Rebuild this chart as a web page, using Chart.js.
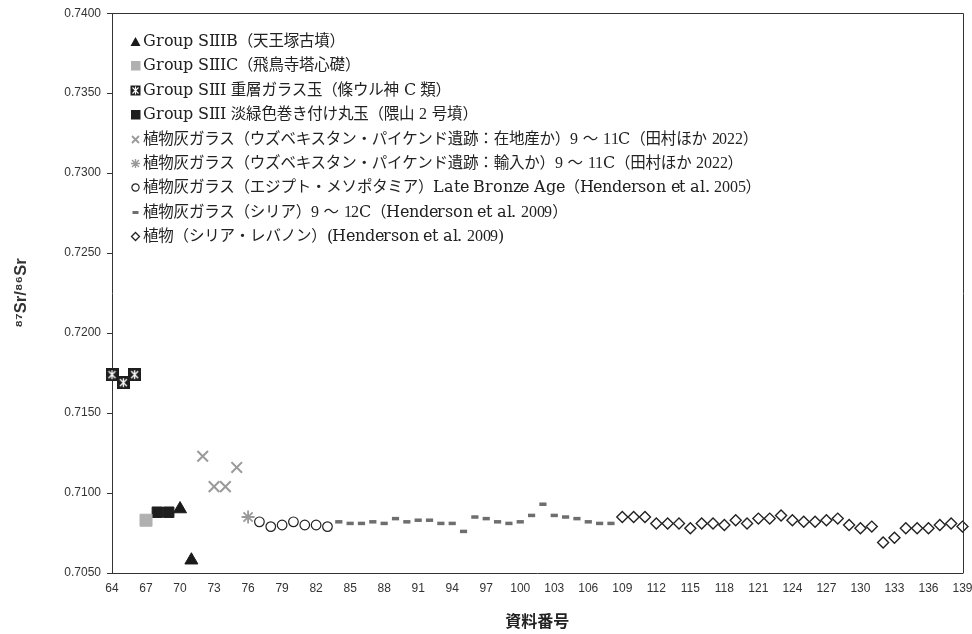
<!DOCTYPE html>
<html>
<head>
<meta charset="utf-8">
<script src="https://cdn.jsdelivr.net/npm/chart.js@4.4.1/dist/chart.umd.min.js"></script>
<style>
  @font-face { font-family: "LegendLatin"; src: local("Liberation Serif"); unicode-range: U+0030-0039; }
  @font-face { font-family: "LegendLatin"; src: local("DejaVu Serif"); unicode-range: U+0020-002F, U+003A-007E; }
  body { margin: 0; background: #fff; }
  #wrap { position: relative; width: 972px; height: 634px; }
  #legend {
    position: absolute; left: 130px; top: 29px;
    font: 15.5px "LegendLatin", "DejaVu Serif", "Noto Sans CJK JP", serif;
    letter-spacing: -0.2px;
    color: #222; line-height: 24.4px; white-space: nowrap;
  }
  #legend svg { vertical-align: -1px; margin-right: 2px; }
</style>
</head>
<body>
<div id="wrap">
  <canvas id="chart" width="972" height="634"></canvas>
  <div id="legend"></div>
</div>
<script>
// series labels (legend order)
const seriesLabels = [
  'Group SIIIB（天王塚古墳）',
  'Group SIIIC（飛鳥寺塔心礎）',
  'Group SIII 重層ガラス玉（條ウル神 C 類）',
  'Group SIII 淡緑色巻き付け丸玉（隈山 2 号墳）',
  '植物灰ガラス（ウズベキスタン・パイケンド遺跡：在地産か）9 ～ 11C（田村ほか 2022）',
  '植物灰ガラス（ウズベキスタン・パイケンド遺跡：輸入か）9 ～ 11C（田村ほか 2022）',
  '植物灰ガラス（エジプト・メソポタミア）Late Bronze Age（Henderson et al. 2005）',
  '植物灰ガラス（シリア）9 ～ 12C（Henderson et al. 2009）',
  '植物（シリア・レバノン）(Henderson et al. 2009)'
];

// sample numbers (資料番号) and 87Sr/86Sr values
const noSIIIB = [70, 71];
const srSIIIB = [0.7090, 0.7058];

const noSIIIC = [67];
const srSIIIC = [0.7083];

const noLayered = [64, 65, 66];
const srLayered = [0.7174, 0.7169, 0.7174];

const noGreen = [68, 69];
const srGreen = [0.7088, 0.7088];

const noUzLocal = [72, 73, 74, 75];
const srUzLocal = [0.7123, 0.7104, 0.7104, 0.7116];

const noUzImport = [76];
const srUzImport = [0.7085];

const noEgypt = [77, 78, 79, 80, 81, 82, 83];
const srEgypt = [0.7082, 0.7079, 0.7080, 0.7082, 0.7080, 0.7080, 0.7079];

const noSyria = [84, 85, 86, 87, 88, 89, 90, 91, 92, 93, 94, 95, 96, 97, 98, 99, 100,
                 101, 102, 103, 104, 105, 106, 107, 108];
const srSyria = [0.7082, 0.7081, 0.7081, 0.7082, 0.7081, 0.7084, 0.7082, 0.7083, 0.7083,
                 0.7081, 0.7081, 0.7076, 0.7085, 0.7084, 0.7082, 0.7081, 0.7082, 0.7086,
                 0.7093, 0.7086, 0.7085, 0.7084, 0.7082, 0.7081, 0.7081];

const noPlant = [109, 110, 111, 112, 113, 114, 115, 116, 117, 118, 119, 120, 121, 122, 123,
                 124, 125, 126, 127, 128, 129, 130, 131, 132, 133, 134, 135, 136, 137, 138, 139];
const srPlant = [0.7085, 0.7085, 0.7085, 0.7081, 0.7081, 0.7081, 0.7078, 0.7081, 0.7081,
                 0.7080, 0.7083, 0.7081, 0.7084, 0.7084, 0.7086, 0.7083, 0.7082, 0.7082,
                 0.7083, 0.7084, 0.7080, 0.7078, 0.7079, 0.7069, 0.7072, 0.7078, 0.7078,
                 0.7078, 0.7080, 0.7081, 0.7079];

const xMin = 64, xMax = 139, xStep = 3;
const yMin = 0.705, yMax = 0.74, yStep = 0.005;

function pts(xs, ys) {
  return xs.map((x, i) => ({ x: x, y: ys[i] }));
}

// black box with white asterisk marker
function layeredMarker() {
  const c = document.createElement('canvas');
  c.width = 13; c.height = 13;
  const g = c.getContext('2d');
  g.fillStyle = '#1e1e1e';
  g.fillRect(0, 0, 13, 13);
  g.strokeStyle = '#fff';
  g.lineWidth = 1.3;
  g.beginPath();
  g.moveTo(3, 3); g.lineTo(10, 10);
  g.moveTo(10, 3); g.lineTo(3, 10);
  g.moveTo(6.5, 2); g.lineTo(6.5, 11);
  g.stroke();
  return c;
}

const datasets = [
  { data: pts(noSIIIB, srSIIIB), pointStyle: 'triangle', pointRadius: 7.5,
    backgroundColor: '#1a1a1a', borderColor: '#1a1a1a', borderWidth: 1 },
  { data: pts(noSIIIC, srSIIIC), pointStyle: 'rect', pointRadius: 8.5,
    backgroundColor: '#b0b0b0', borderColor: '#b0b0b0', borderWidth: 1 },
  { data: pts(noLayered, srLayered), pointStyle: layeredMarker(), pointRadius: 7 },
  { data: pts(noGreen, srGreen), pointStyle: 'rect', pointRadius: 7.4,
    backgroundColor: '#1e1e1e', borderColor: '#1e1e1e', borderWidth: 1 },
  { data: pts(noUzLocal, srUzLocal), pointStyle: 'crossRot', pointRadius: 7.5,
    borderColor: '#9a9a9a', borderWidth: 2 },
  { data: pts(noUzImport, srUzImport), pointStyle: 'star', pointRadius: 6.5,
    borderColor: '#9a9a9a', borderWidth: 1.8 },
  { data: pts(noEgypt, srEgypt), pointStyle: 'circle', pointRadius: 4.8,
    backgroundColor: '#fff', borderColor: '#222', borderWidth: 1.2 },
  { data: pts(noSyria, srSyria), pointStyle: 'line', pointRadius: 3.6,
    borderColor: '#6e6e6e', borderWidth: 3.5 },
  { data: pts(noPlant, srPlant), pointStyle: 'rectRot', pointRadius: 5.5,
    backgroundColor: '#fff', borderColor: '#222', borderWidth: 1.4 }
];
datasets.forEach((d, i) => { d.label = seriesLabels[i]; d.clip = false; });

const frame = {
  id: 'frame',
  afterDraw(chart) {
    const { ctx, chartArea: a } = chart;
    ctx.save();
    ctx.strokeStyle = '#333';
    ctx.lineWidth = 1;
    ctx.beginPath();
    ctx.moveTo(Math.round(a.left) + 0.5, Math.round(a.top) + 0.5);
    ctx.lineTo(Math.round(a.right) + 0.5, Math.round(a.top) + 0.5);
    ctx.lineTo(Math.round(a.right) + 0.5, Math.round(a.bottom) + 0.5);
    ctx.stroke();
    ctx.restore();
  }
};

const tickFont = { family: '"Liberation Sans", Arial, sans-serif', size: 12 };

new Chart(document.getElementById('chart'), {
  type: 'scatter',
  data: { datasets: datasets },
  plugins: [frame],
  options: {
    responsive: false,
    animation: false,
    layout: { padding: { top: 12, right: 0, left: 0, bottom: 0 } },
    plugins: { legend: { display: false }, tooltip: { enabled: false } },
    scales: {
      x: {
        type: 'linear', min: xMin, max: xMax,
        ticks: { stepSize: xStep, autoSkip: false, maxRotation: 0, padding: 8,
                 color: '#333', font: tickFont },
        grid: { display: false, drawTicks: false },
        border: { color: '#333' },
        title: { display: true, text: '資料番号', color: '#222',
                 font: { family: '"Noto Sans CJK JP", sans-serif', size: 16, weight: 'bold' },
                 padding: { top: 0, bottom: 3 } },
        afterFit(s) { s.height = 61; s.paddingRight = 6; s.paddingLeft = 0; }
      },
      y: {
        min: yMin, max: yMax,
        ticks: { stepSize: yStep, padding: 6, color: '#333', font: tickFont,
                 callback: v => v.toFixed(4) },
        grid: { drawOnChartArea: false, tickLength: 5, color: '#333' },
        border: { color: '#333' },
        title: { display: true, text: '⁸⁷Sr/⁸⁶Sr', color: '#333',
                 font: { family: '"Liberation Sans", "DejaVu Sans", sans-serif', size: 16.5, weight: 'bold' },
                 padding: { top: 12, bottom: 0 } },
        afterFit(s) { s.width = 112; }
      }
    }
  }
});

// legend built as html text
const legendIcons = [
  '<polygon points="5.5,1 10.5,10 0.5,10" fill="#1a1a1a"/>',
  '<rect x="1" y="1" width="9.5" height="9.5" fill="#b0b0b0"/>',
  '<rect x="0.5" y="0.5" width="10" height="10" fill="#1e1e1e"/><path d="M2.5 2.5L8.5 8.5M8.5 2.5L2.5 8.5M5.5 1.5V9.5" stroke="#fff" stroke-width="1.1"/>',
  '<rect x="1" y="1" width="9.5" height="9.5" fill="#1e1e1e"/>',
  '<path d="M2 2L9 9M9 2L2 9" stroke="#9a9a9a" stroke-width="1.8"/>',
  '<path d="M2 2L9 9M9 2L2 9M5.5 1V10M1 5.5H10" stroke="#9a9a9a" stroke-width="1.4"/>',
  '<circle cx="5.5" cy="5.5" r="3.6" fill="#fff" stroke="#222" stroke-width="1.2"/>',
  '<rect x="2.5" y="4" width="6" height="3" fill="#6e6e6e"/>',
  '<path d="M5.5 1.5L9.5 5.5L5.5 9.5L1.5 5.5Z" fill="#fff" stroke="#222" stroke-width="1.3"/>'
];
document.getElementById('legend').innerHTML = seriesLabels.map((t, i) =>
  '<div><svg width="11" height="11" viewBox="0 0 11 11">' + legendIcons[i] + '</svg>' + t + '</div>'
).join('');
</script>
</body>
</html>
